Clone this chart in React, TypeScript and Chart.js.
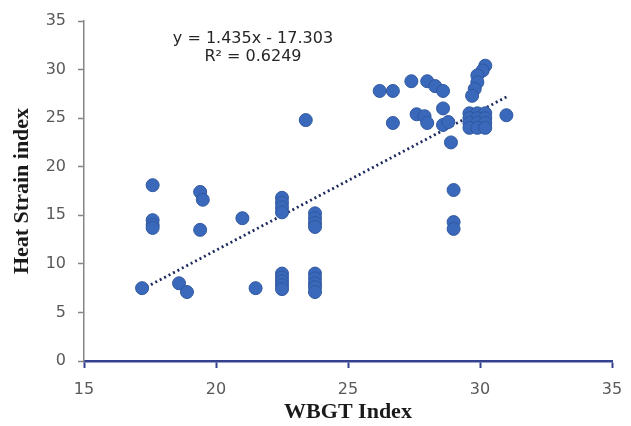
import React, { useEffect, useRef } from "react";
import { Chart, registerables } from "chart.js";

Chart.register(...registerables);

// WBGT index (x) and Heat Strain index (y) observations
const wbgtValues: number[] = [
  17.6, 17.6, 17.6, 17.6, 17.2, 18.6, 18.9, 19.4, 19.5, 19.4, 21.0, 21.5,
  22.5, 22.5, 22.5, 22.5, 22.5, 22.5, 22.5, 22.5, 22.5,
  23.4,
  23.75, 23.75, 23.75, 23.75, 23.75, 23.75, 23.75, 23.75, 23.75,
  26.2, 26.7, 27.4, 28.0, 28.3, 28.6,
  26.7, 27.6, 27.9, 28.0, 28.6, 28.6, 28.8, 28.9,
  29.0, 29.0, 29.0,
  30.2, 30.1, 29.9, 29.9, 29.8, 29.7,
  29.6, 29.9, 30.2, 29.6, 29.9, 30.2, 29.6, 29.9, 30.2, 29.6, 29.9, 30.2,
  31.0,
];
const heatStrainValues: number[] = [
  18.1, 14.5, 14.0, 13.7, 7.5, 8.0, 7.1, 17.4, 16.6, 13.5, 14.7, 7.5,
  16.8, 16.3, 15.8, 15.3, 9.0, 8.6, 8.2, 7.8, 7.4,
  24.8,
  15.2, 14.7, 14.2, 13.8, 9.0, 8.5, 8.0, 7.6, 7.1,
  27.8, 27.8, 28.8, 28.8, 28.3, 27.8,
  24.5, 25.4, 25.2, 24.5, 26.0, 24.3, 24.6, 22.5,
  17.6, 14.3, 13.6,
  30.4, 29.9, 29.4, 28.7, 28.0, 27.3,
  25.5, 25.5, 25.5, 25.0, 25.0, 25.0, 24.5, 24.5, 24.5, 24.0, 24.0, 24.0,
  25.3,
];
const xTicks: number[] = [15, 20, 25, 30, 35];
const yTicks: number[] = [0, 5, 10, 15, 20, 25, 30, 35];
const trendSlope = 1.435;
const trendIntercept = -17.303;
const trendRange: number[] = [17.2, 31.0];
const equationLines: string[] = ["y = 1.435x - 17.303", "R\u00B2 = 0.6249"];

export default function App() {
  const ref = useRef<HTMLCanvasElement | null>(null);
  useEffect(() => {
    if (!ref.current) return;
    const points = wbgtValues.map((x, i) => ({ x, y: heatStrainValues[i] }));
    const trend = trendRange.map((x) => ({ x, y: trendSlope * x + trendIntercept }));
    const eqPlugin = {
      id: "eq",
      afterDraw(chart: any) {
        const { ctx, scales } = chart;
        const cx = scales.x.getPixelForValue(21.4);
        ctx.save();
        ctx.fillStyle = "#262626";
        ctx.font = "16px 'DejaVu Sans'";
        ctx.textAlign = "center";
        ctx.textBaseline = "middle";
        ctx.fillText(equationLines[0], cx, scales.y.getPixelForValue(33.2));
        ctx.fillText(equationLines[1], cx, scales.y.getPixelForValue(31.3));
        ctx.restore();
      },
    };
    const chart = new Chart(ref.current, {
      type: "scatter",
      data: {
        datasets: [
          {
            data: trend,
            showLine: true,
            borderColor: "#1c2a5e",
            borderWidth: 2.8,
            borderDash: [2, 3],
            pointRadius: 0,
            order: 2,
          },
          {
            data: points,
            backgroundColor: "#3a69bb",
            borderColor: "#30589f",
            borderWidth: 1,
            pointRadius: 6.5,
            order: 1,
          },
        ],
      },
      options: {
        animation: false,
        responsive: false,
        layout: { padding: { top: 21, right: 19, left: 0, bottom: 0 } },
        plugins: { legend: { display: false }, tooltip: { enabled: false } },
        scales: {
          x: {
            type: "linear",
            min: 15,
            max: 35,
            afterBuildTicks: (s: any) => {
              s.ticks = xTicks.map((v) => ({ value: v }));
            },
            afterFit: (s: any) => {
              s.height = 65;
              s.paddingRight = 0;
              s.paddingLeft = 0;
            },
            border: { color: "#34418f", width: 2.5 },
            grid: { drawOnChartArea: false, drawTicks: true, tickLength: 7, tickColor: "#34418f", tickWidth: 2 },
            ticks: { color: "#595959", font: { family: "'DejaVu Sans'", size: 16 }, padding: 12 },
            title: {
              display: true,
              text: "WBGT Index",
              color: "#1a1a1a",
              font: { family: "'Liberation Serif'", size: 22, weight: "bold" },
              padding: { top: 0, bottom: 0 },
            },
          },
          y: {
            type: "linear",
            min: 0,
            max: 35,
            afterBuildTicks: (s: any) => {
              s.ticks = yTicks.map((v) => ({ value: v }));
            },
            afterFit: (s: any) => {
              s.width = 84;
              s.paddingTop = 0;
              s.paddingBottom = 0;
            },
            border: { color: "#858585", width: 1.5 },
            grid: { drawOnChartArea: false, drawTicks: true, tickLength: 6, tickColor: "#858585", tickWidth: 1.5 },
            ticks: { color: "#595959", font: { family: "'DejaVu Sans'", size: 16 }, padding: 12 },
            title: {
              display: true,
              text: "Heat Strain index",
              color: "#1a1a1a",
              font: { family: "'Liberation Serif'", size: 22, weight: "bold" },
              padding: { top: 9, bottom: 0 },
            },
          },
        },
      },
      plugins: [eqPlugin],
    });
    return () => chart.destroy();
  }, []);
  return (
    <div style={{ position: "absolute", left: 0, top: 0, width: 631, height: 426, background: "#fff" }}>
      <canvas ref={ref} width={631} height={426} style={{ width: 631, height: 426 }} />
    </div>
  );
}
